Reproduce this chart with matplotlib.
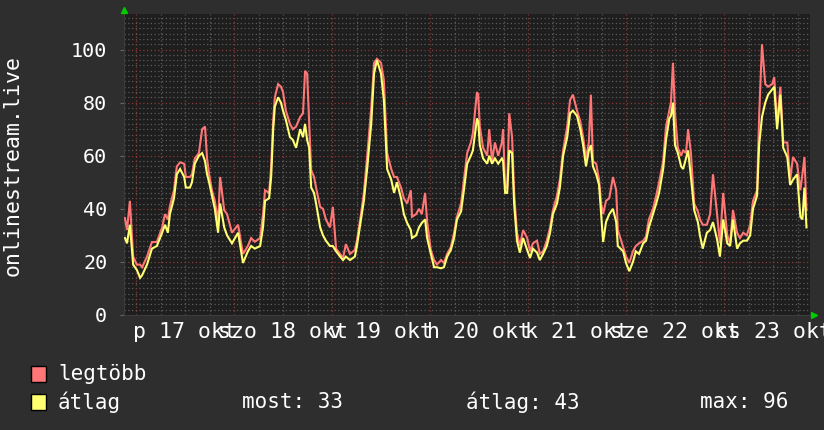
import matplotlib
matplotlib.use('Agg')
import matplotlib.pyplot as plt
import numpy as np
from matplotlib.patches import Rectangle

# ---------------- data ----------------
# hours since 2025-10-17 00:00
hours = [-2.7, -2.2, -1.5, -0.7, 0.2, 1.0, 1.5, 2.7, 3.9, 5.1, 6.4, 7.1, 7.8, 8.3, 9.3, 10.0, 10.8,
         11.8, 12.2, 13.2, 13.7, 14.4, 15.4, 16.2, 16.9, 17.4, 17.9, 18.6, 19.3, 20.1, 20.6, 21.6,
         22.3, 23.5, 25.0, 26.2, 27.4, 28.2, 29.1, 30.4, 31.1, 31.6, 32.6, 33.1, 33.6, 34.0, 34.8,
         35.5, 36.0, 36.7, 37.7, 38.4, 39.2, 40.2, 40.9, 41.4, 41.9, 42.4, 42.9, 43.6, 44.1, 45.1,
         45.8, 46.5, 47.5, 48.2, 49.0, 50.0, 50.7, 51.4, 52.4, 53.6, 54.1, 55.1, 55.8, 56.6, 57.6,
         58.3, 59.0, 60.0, 60.7, 61.5, 62.5, 63.2, 63.9, 64.9, 65.6, 66.4, 67.3, 67.6, 68.6, 69.3,
         70.0, 70.8, 71.3, 72.2, 73.0, 73.7, 74.7, 75.4, 76.2, 77.1, 77.9, 78.6, 79.6, 80.3, 81.1,
         82.0, 82.5, 83.5, 83.8, 84.2, 85.0, 86.0, 86.5, 87.2, 87.9, 88.7, 89.6, 89.9, 90.4, 90.9,
         91.4, 92.1, 92.6, 93.3, 94.0, 94.8, 95.8, 96.5, 97.2, 98.2, 98.9, 99.7, 100.6, 101.4,
         102.1, 103.1, 103.8, 104.6, 105.6, 106.3, 107.0, 108.0, 108.8, 109.5, 110.2, 110.9,
         111.4, 111.9, 112.7, 113.4, 113.9, 114.4, 115.1, 115.9, 116.8, 117.6, 118.0, 119.3,
         120.0, 120.8, 121.7, 122.4, 123.2, 124.2, 124.9, 125.6, 126.6, 127.4, 128.1, 129.1,
         129.8, 130.6, 131.0, 131.5, 132.0, 132.7, 133.5, 134.0, 134.7, 135.2, 135.9, 136.7,
         137.6, 138.1, 138.8, 139.8, 140.6, 141.3, 142.3, 143.0, 143.8, 144.8, 145.5, 146.2,
         147.2, 147.9, 148.7, 149.6, 150.4, 151.1, 152.1, 152.6, 153.3, 154.1, 154.8, 155.8,
         156.3, 157.0, 157.8, 158.5, 159.5, 160.2, 160.9, 161.9, 162.7, 163.2, 163.7, 164.2]

legtobb = [36.5, 32, 43, 22, 19, 19, 18, 22, 27.5, 27.5, 33, 38, 36, 41, 47, 56, 57.5,
           57, 52, 52, 53, 59, 61, 70, 71, 59, 53, 47, 43, 35, 52, 39.5,
           38, 31, 34, 23, 26, 29, 27.6, 29, 38, 47, 46, 56, 73.5, 82, 87,
           86, 84, 77, 72, 70, 71, 74.6, 76, 92, 91, 73, 54.6, 52, 48, 40.7,
           40, 36, 33, 40.7, 25, 23, 21.5, 26.7, 23, 24.5, 28, 38, 46, 59.5, 78,
           95, 96.5, 95, 88.5, 61, 55, 52, 52, 48, 44, 42, 47, 37, 38, 40,
           38, 46, 35, 24.5, 20.7, 19, 20.7, 19.6, 23, 25.6, 31, 37, 42, 51, 61,
           65, 68.5, 84, 83, 71, 63, 60, 70, 58, 65, 60, 65, 70, 48, 48,
           76, 67, 46, 31, 26, 32, 29, 24, 27, 28, 23, 24, 28, 33,
           39.5, 45, 51, 62, 71, 81, 83, 77, 73, 67, 59, 65,
           83, 58, 57, 51, 42, 38, 43, 44, 52, 47, 32, 25.6,
           22, 19.6, 24, 26, 27, 28, 29.5, 36, 40, 45, 50, 58,
           71, 77, 80, 95, 76, 63, 60, 62, 61, 70, 61, 42,
           39, 36, 34, 34, 38, 53, 38, 27, 46, 30, 27, 39.5,
           31, 29, 31, 30, 34, 43, 47, 74.6, 102, 87, 86, 87,
           89.6, 72, 86, 65, 65, 51, 59.5, 57, 47, 53, 59.5, 39.5]

atlag = [29, 27, 34, 19, 17, 14, 15, 19, 25, 26, 31, 34, 31, 38, 44, 53, 55,
         52, 48, 48, 50, 57, 60, 61, 58, 53, 50, 45, 40, 31, 42, 33,
         30, 27, 31, 19.6, 24, 26, 25, 26, 33, 43, 44, 52, 70, 78.5, 82,
         80, 77, 73.5, 67, 66, 63, 70, 67, 72, 66, 63, 48, 46, 42, 33,
         30, 28, 26, 26, 24, 22, 20.7, 22, 20.7, 22, 26, 36, 43, 55, 72,
         91, 96, 91, 81, 55, 51, 46, 50, 44, 38, 34.7, 32, 29, 30, 33,
         34.7, 36, 29, 23, 18, 18, 17.6, 18, 22, 24.5, 29, 36, 39, 47, 57,
         60, 62, 74, 73, 64, 59, 57, 60, 57, 59, 57, 59, 58, 46, 46,
         62, 61, 42, 28, 23.5, 29, 24.5, 21.5, 25, 23.5, 20.7, 23, 26, 31,
         38, 42, 48, 60, 67, 76, 77, 75, 70, 64, 56, 62,
         64, 56, 53, 49, 38, 27.5, 35, 38, 40, 35, 26, 24,
         19.6, 16.5, 20, 24, 23, 27, 28, 33, 38, 42, 46, 55,
         66, 74, 75, 80, 64, 61, 56, 55, 59, 62, 52, 39.5,
         35, 30, 25, 31, 32, 35, 28.5, 22, 36, 27, 26, 36,
         25, 27, 28, 28, 30, 40, 45, 64, 74.6, 80, 83, 85,
         86, 70, 83, 63, 59.5, 49, 51, 53, 37, 36, 48, 33]

day_labels = ["p 17 okt", "szo 18 okt", "v 19 okt", "h 20 okt",
              "k 21 okt", "sze 22 okt", "cs 23 okt"]
y_ticks = [0, 20, 40, 60, 80, 100]
y_label = "onlinestream.live"
series_names = ["legtöbb", "átlag"]
stat_most, stat_atlag, stat_max = 33, 43, 96

# ---------------- style ----------------
BG = '#2e2e2e'
PLOT_BG = '#1e1e1e'
RED = '#ff7676'
YEL = '#ffff70'
MINOR = '#5c5c5c'
MAJOR = '#8c3838'
TXT = '#ffffff'
MONO = 'DejaVu Sans Mono'
W, H = 824, 430

fig = plt.figure(figsize=(W / 100, H / 100), dpi=100, facecolor=BG)
ax = fig.add_axes([124 / W, (H - 315) / H, 686 / W, 301 / H])
ax.set_facecolor(PLOT_BG)
x0, x1 = -2.94, 165.06
ax.set_xlim(x0, x1)
ax.set_ylim(0, 113.4)

dot = (0, (1, 2))
for h in np.arange(6, x1, 6):
    if h % 24:
        ax.axvline(h, color=MINOR, lw=0.9, ls=dot, zorder=1)
for v in np.arange(2, 113.4, 2):
    if v % 20:
        ax.axhline(v, color=MINOR, lw=0.9, ls=dot, zorder=1)
for h in np.arange(0, x1, 24):
    ax.axvline(h, color=MAJOR, lw=0.9, ls=dot, zorder=1.5)
for v in y_ticks[1:]:
    ax.axhline(v, color=MAJOR, lw=0.9, ls=dot, zorder=1.5)

ax.plot(hours, legtobb, color=RED, lw=1.5, zorder=3, solid_joinstyle='miter')
ax.plot(hours, atlag, color=YEL, lw=1.5, zorder=4, solid_joinstyle='miter')

for s in ['top', 'right']:
    ax.spines[s].set_visible(False)
for s in ['left', 'bottom']:
    ax.spines[s].set_color('#3c3c3c')
    ax.spines[s].set_linewidth(0.8)

ax.set_yticks(y_ticks)
ax.set_yticklabels([str(v) for v in y_ticks], family=MONO, fontsize=14.5, color=TXT)
ax.tick_params(axis='y', length=3, color='#666666', pad=9)
ax.set_xticks(np.arange(12, x1, 24))
ax.set_xticklabels(day_labels, family=MONO, fontsize=15.5, color=TXT)
ax.tick_params(axis='x', length=0, pad=5)

# axis arrows
ax.plot([0], [1.013], marker='^', color='#00cc00', ms=5, transform=ax.transAxes, clip_on=False, zorder=5)
ax.plot([1.006], [0], marker='>', color='#00cc00', ms=5, transform=ax.transAxes, clip_on=False, zorder=5)

fig.text(13 / W, 1 - 165 / H, y_label, rotation=90, va='center', ha='center',
         family=MONO, fontsize=15.5, color=TXT)

# legend
for i, (name, col) in enumerate(zip(series_names, [RED, YEL])):
    yc = 374 + i * 28
    fig.add_artist(Rectangle((31 / W, 1 - (yc + 8) / H), 15 / W, 16 / H,
                             transform=fig.transFigure, fc=col, ec='black', lw=1))
    fig.text(58 / W, 1 - yc / H, name, va='center', ha='left',
             family=MONO, fontsize=15, color=TXT)

fig.text(242 / W, 1 - 402 / H, f"most: {stat_most}", va='center', ha='left',
         family=MONO, fontsize=15, color=TXT)
fig.text(466 / W, 1 - 402 / H, f"átlag: {stat_atlag}", va='center', ha='left',
         family=MONO, fontsize=15, color=TXT)
fig.text(700 / W, 1 - 402 / H, f"max: {stat_max}", va='center', ha='left',
         family=MONO, fontsize=15, color=TXT)

fig.savefig('out.png', dpi=100, facecolor=BG)
